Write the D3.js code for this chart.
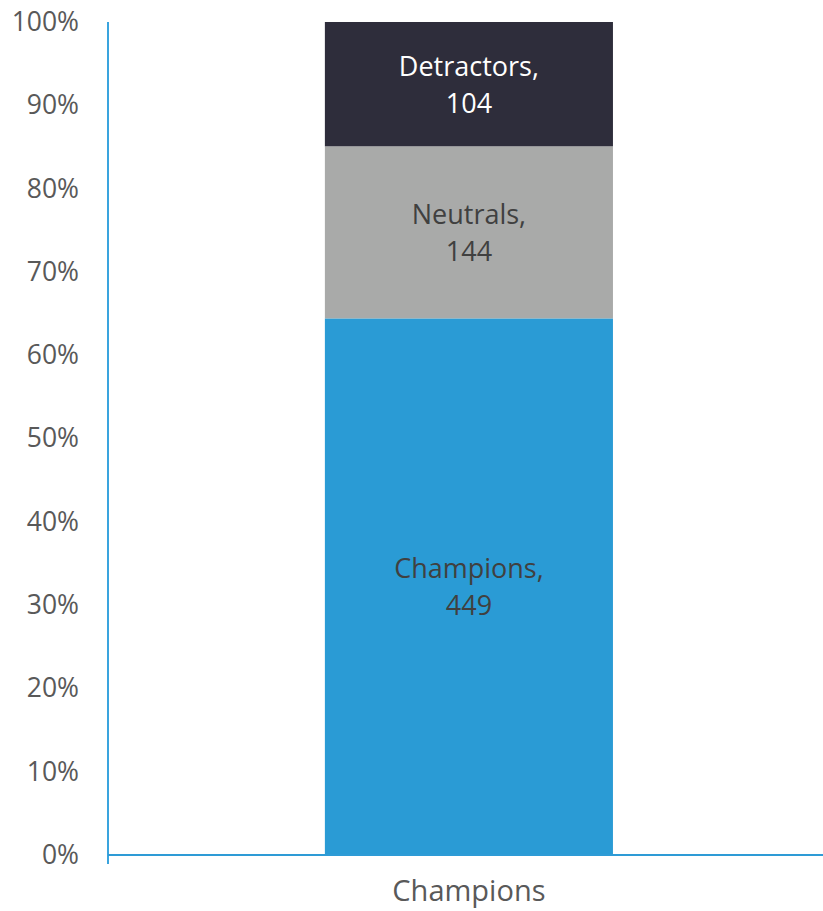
<!DOCTYPE html>
<html>
<head>
<meta charset="utf-8">
<script src="https://cdn.jsdelivr.net/npm/d3@7"></script>
<style>
  body { margin: 0; background: #fff; }
  text { font-family: "Open Sans", "Noto Sans", sans-serif; }
</style>
</head>
<body>
<svg id="chart" width="823" height="911"></svg>
<script>
// data
const categories = ['Champions'];
const seriesNames = ['Champions', 'Neutrals', 'Detractors'];
const seriesValues = [449, 144, 104];
const seriesColors = ['#2A9BD5', '#A9AAA9', '#2E2D3B'];
const labelColors = ['#404040', '#404040', '#ffffff'];
const yTicks = [0, 0.1, 0.2, 0.3, 0.4, 0.5, 0.6, 0.7, 0.8, 0.9, 1];

const margin = { left: 108, right: 0, top: 22, bottom: 56 };
const size = { width: 823, height: 911 };

const svg = d3.select('#chart');

const total = d3.sum(seriesValues);
let acc = 0;
const stacked = seriesValues.map((v, i) => {
  const d = { name: seriesNames[i], value: v, y0: acc / total, y1: (acc + v) / total, i };
  acc += v;
  return d;
});

const x = d3.scaleBand()
  .domain(categories)
  .range([margin.left, size.width - margin.right])
  .paddingInner(0)
  .paddingOuter(0.741)
  .align(0.508);

const y = d3.scaleLinear()
  .domain([0, 1])
  .range([size.height - margin.bottom, margin.top]);

// bars
const bar = svg.append('g');
bar.selectAll('rect')
  .data(stacked)
  .enter()
  .append('rect')
  .attr('x', x(categories[0]))
  .attr('width', x.bandwidth())
  .attr('y', d => y(d.y1))
  .attr('height', d => y(d.y0) - y(d.y1))
  .attr('fill', d => seriesColors[d.i]);

// data labels, two lines each
const cx = x(categories[0]) + x.bandwidth() / 2;
const mid = d => (y(d.y0) + y(d.y1)) / 2;
const addLine = (cls, dy, fmt) => bar.selectAll('text.' + cls)
  .data(stacked)
  .enter()
  .append('text')
  .attr('class', cls)
  .attr('text-anchor', 'middle')
  .attr('font-size', 27)
  .attr('fill', d => labelColors[d.i])
  .attr('x', cx)
  .attr('y', d => mid(d) + dy)
  .text(fmt);
addLine('lab-name', -8.5, d => d.name + ',');
addLine('lab-val', 28.5, d => d.value);

// y axis
const yAxis = svg.append('g')
  .attr('transform', `translate(${margin.left},0)`)
  .call(d3.axisLeft(y).tickValues(yTicks).tickFormat(d3.format('.0%')).tickSize(0).tickPadding(29));
yAxis.select('.domain').remove();
yAxis.selectAll('text')
  .attr('font-size', 26.5)
  .attr('fill', '#595959')
  .attr('font-family', '"Open Sans", sans-serif');
yAxis.append('line')
  .attr('x1', 0).attr('x2', 0)
  .attr('y1', y(1)).attr('y2', y(0) + 9)
  .attr('stroke', '#3AA4DE')
  .attr('stroke-width', 2);

// x axis
const xAxis = svg.append('g')
  .attr('transform', `translate(0,${y(0)})`)
  .call(d3.axisBottom(x).tickSize(0).tickPadding(25));
xAxis.select('.domain').remove();
xAxis.selectAll('text')
  .attr('font-size', 29)
  .attr('fill', '#595959')
  .attr('font-family', '"Open Sans", sans-serif');
xAxis.append('line')
  .attr('x1', margin.left).attr('x2', size.width)
  .attr('y1', 0).attr('y2', 0)
  .attr('stroke', '#2E9BD6')
  .attr('stroke-width', 2);
</script>
</body>
</html>
